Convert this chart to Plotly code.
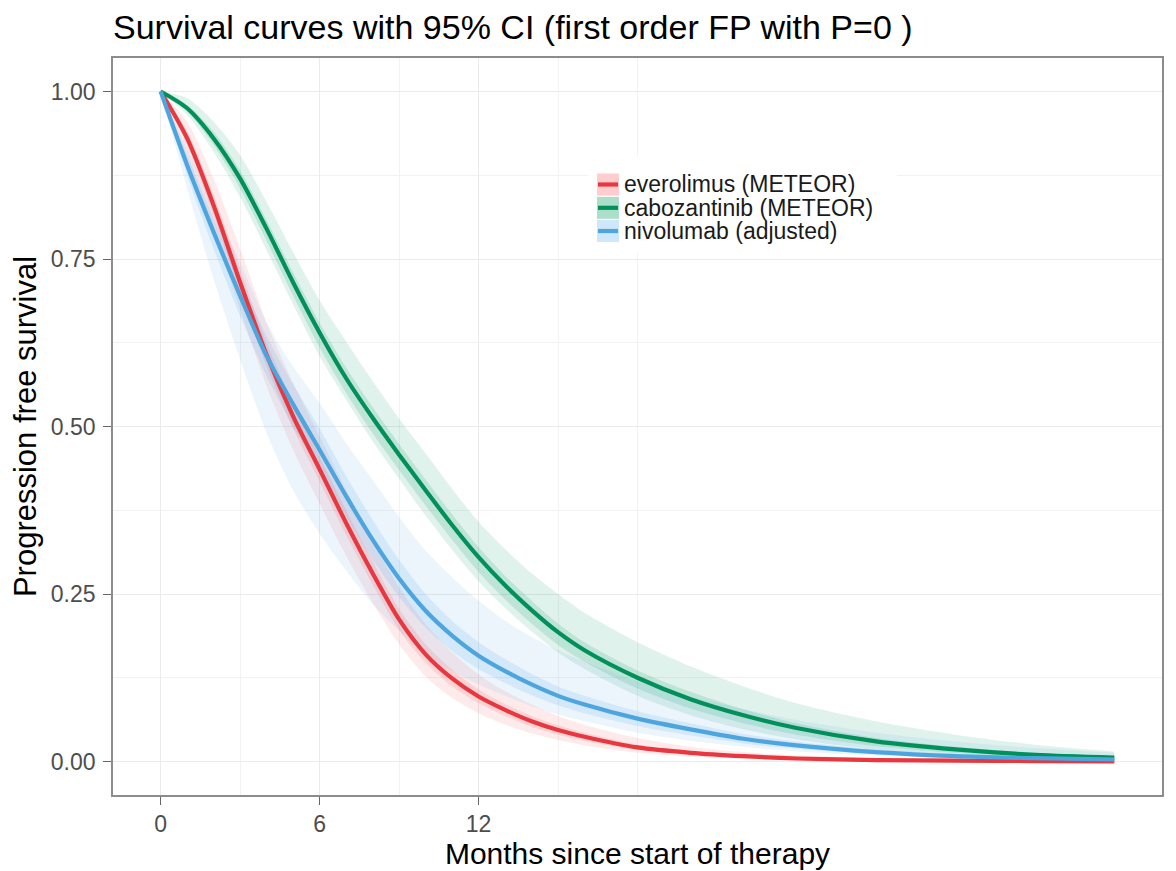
import plotly.graph_objects as go

# ---------------- data ----------------
months = [0, 1, 2, 3, 4, 5, 6, 7, 8, 9, 10, 11, 12, 13, 14, 15, 16, 18, 20, 22, 24, 27, 30, 33, 36]

series_names = ["everolimus (METEOR)", "cabozantinib (METEOR)", "nivolumab (adjusted)"]

everolimus_pfs = [1.0, 0.93, 0.83, 0.715, 0.607, 0.515, 0.436, 0.356, 0.281, 0.212, 0.160, 0.124, 0.097,
                  0.077, 0.060, 0.047, 0.037, 0.021, 0.013, 0.008, 0.0045, 0.0022, 0.0012, 0.0006, 0.0003]
everolimus_outer_lo = [1.0, 0.90, 0.79, 0.675, 0.56, 0.465, 0.385, 0.307, 0.237, 0.175, 0.127, 0.095, 0.072,
                       0.055, 0.042, 0.032, 0.024, 0.013, 0.007, 0.004, 0.002, 0.001, 0.0005, 0.0, 0.0]
everolimus_outer_hi = [1.0, 0.955, 0.87, 0.765, 0.655, 0.565, 0.485, 0.405, 0.33, 0.26, 0.205, 0.163, 0.13,
                       0.105, 0.085, 0.068, 0.055, 0.035, 0.022, 0.014, 0.009, 0.005, 0.003, 0.002, 0.001]
everolimus_inner_lo = [1.0, 0.92, 0.815, 0.70, 0.59, 0.497, 0.418, 0.338, 0.264, 0.196, 0.147, 0.112, 0.087,
                       0.068, 0.052, 0.040, 0.031, 0.017, 0.010, 0.006, 0.003, 0.0015, 0.001, 0.0003, 0.0]
everolimus_inner_hi = [1.0, 0.94, 0.845, 0.735, 0.625, 0.535, 0.455, 0.375, 0.299, 0.228, 0.175, 0.137, 0.108,
                       0.086, 0.068, 0.054, 0.043, 0.025, 0.016, 0.010, 0.006, 0.003, 0.002, 0.001, 0.0005]

cabozantinib_pfs = [1.0, 0.975, 0.93, 0.87, 0.795, 0.715, 0.64, 0.572, 0.513, 0.458, 0.405, 0.353, 0.305,
                    0.263, 0.226, 0.193, 0.166, 0.125, 0.093, 0.069, 0.050, 0.030, 0.018, 0.010, 0.006]
cabozantinib_outer_lo = [1.0, 0.965, 0.91, 0.842, 0.763, 0.682, 0.605, 0.54, 0.478, 0.422, 0.367, 0.316, 0.269,
                         0.229, 0.194, 0.163, 0.138, 0.098, 0.069, 0.048, 0.033, 0.018, 0.010, 0.005, 0.002]
cabozantinib_outer_hi = [1.0, 0.99, 0.955, 0.905, 0.835, 0.76, 0.688, 0.627, 0.568, 0.512, 0.46, 0.407, 0.358,
                         0.317, 0.281, 0.25, 0.222, 0.178, 0.142, 0.112, 0.087, 0.06, 0.04, 0.025, 0.015]
cabozantinib_inner_lo = [1.0, 0.97, 0.92, 0.855, 0.777, 0.695, 0.618, 0.55, 0.49, 0.435, 0.382, 0.331, 0.283,
                         0.242, 0.206, 0.174, 0.149, 0.109, 0.079, 0.057, 0.040, 0.023, 0.013, 0.007, 0.003]
cabozantinib_inner_hi = [1.0, 0.98, 0.94, 0.882, 0.808, 0.73, 0.655, 0.588, 0.529, 0.474, 0.421, 0.369, 0.32,
                         0.277, 0.24, 0.206, 0.178, 0.136, 0.104, 0.078, 0.057, 0.035, 0.022, 0.013, 0.008]

nivolumab_pfs = [1.0, 0.89, 0.79, 0.695, 0.605, 0.533, 0.465, 0.396, 0.331, 0.273, 0.225, 0.188, 0.158,
                 0.135, 0.115, 0.098, 0.085, 0.064, 0.048, 0.034, 0.024, 0.014, 0.008, 0.005, 0.003]
nivolumab_outer_lo = [1.0, 0.855, 0.72, 0.60, 0.49, 0.405, 0.34, 0.285, 0.235, 0.195, 0.16, 0.135, 0.115,
                      0.098, 0.083, 0.07, 0.06, 0.043, 0.031, 0.022, 0.015, 0.009, 0.005, 0.003, 0.001]
nivolumab_outer_hi = [1.0, 0.915, 0.83, 0.745, 0.655, 0.59, 0.535, 0.475, 0.42, 0.365, 0.315, 0.275, 0.24,
                      0.21, 0.186, 0.166, 0.149, 0.12, 0.097, 0.078, 0.062, 0.043, 0.03, 0.02, 0.013]
nivolumab_inner_lo = [1.0, 0.875, 0.765, 0.665, 0.575, 0.50, 0.435, 0.366, 0.301, 0.246, 0.20, 0.165, 0.138,
                      0.117, 0.099, 0.084, 0.072, 0.053, 0.039, 0.027, 0.019, 0.011, 0.006, 0.003, 0.002]
nivolumab_inner_hi = [1.0, 0.905, 0.81, 0.72, 0.635, 0.563, 0.497, 0.426, 0.361, 0.301, 0.25, 0.21, 0.178,
                      0.153, 0.131, 0.112, 0.098, 0.075, 0.057, 0.041, 0.03, 0.018, 0.011, 0.007, 0.004]

x_tick_vals = [0, 6, 12]
x_tick_text = ["0", "6", "12"]
x_minor_vals = [3, 9, 15, 18]
y_tick_vals = [0, 0.25, 0.5, 0.75, 1.0]
y_tick_text = ["0.00", "0.25", "0.50", "0.75", "1.00"]
y_minor_vals = [0.125, 0.375, 0.625, 0.875]

# ---------------- styling ----------------
FONT = "Arial, 'Liberation Sans', Helvetica, sans-serif"
line_colors = ["#E8373E", "#00905A", "#4CA5DF"]
outer_fill = ["rgba(240,70,80,0.11)", "rgba(0,150,100,0.12)", "rgba(80,165,230,0.11)"]
inner_fill = ["rgba(240,70,80,0.14)", "rgba(0,150,100,0.15)", "rgba(80,165,230,0.16)"]
key_fill = ["rgb(255,205,205)", "rgb(172,222,201)", "rgb(207,231,250)"]

series = [
    (everolimus_pfs, everolimus_outer_lo, everolimus_outer_hi, everolimus_inner_lo, everolimus_inner_hi),
    (cabozantinib_pfs, cabozantinib_outer_lo, cabozantinib_outer_hi, cabozantinib_inner_lo, cabozantinib_inner_hi),
    (nivolumab_pfs, nivolumab_outer_lo, nivolumab_outer_hi, nivolumab_inner_lo, nivolumab_inner_hi),
]

fig = go.Figure()

# ribbons
for i, (pfs, olo, ohi, ilo, ihi) in enumerate(series):
    for lo, hi, fc in ((olo, ohi, outer_fill[i]), (ilo, ihi, inner_fill[i])):
        fig.add_trace(go.Scatter(x=months, y=lo, mode="lines",
                                 line=dict(width=0, shape="spline", smoothing=0.8),
                                 showlegend=False, hoverinfo="skip"))
        fig.add_trace(go.Scatter(x=months, y=hi, mode="lines", fill="tonexty", fillcolor=fc,
                                 line=dict(width=0, shape="spline", smoothing=0.8),
                                 showlegend=False, hoverinfo="skip"))

# lines
for i, (pfs, *_rest) in enumerate(series):
    fig.add_trace(go.Scatter(x=months, y=pfs, mode="lines", name=series_names[i],
                             line=dict(color=line_colors[i], width=4.2, shape="spline", smoothing=0.8),
                             showlegend=False))

# ---------------- geometry (page body has an 8px margin) ----------------
W, H = 1168, 863
L, R, T, B = 105, 14, 50, 76
pw, ph = W - L - R, H - T - B


def px(xp):
    return (xp - L) / pw


def py(yp):
    return 1 - (yp - T) / ph


# ---------------- manual legend (ggplot-like keys) ----------------
shapes = [dict(type="rect", xref="paper", yref="paper", layer="above",
               x0=px(580), x1=px(889), y0=py(149), y1=py(245),
               fillcolor="white", line=dict(width=0))]
row_tops = [165.5, 188.8, 212.0]
row_h = 22.0
annotations = []
for i, name in enumerate(series_names):
    top = row_tops[i]
    shapes.append(dict(type="rect", xref="paper", yref="paper", layer="above",
                       x0=px(589), x1=px(611), y0=py(top + row_h), y1=py(top),
                       fillcolor=key_fill[i], line=dict(width=0)))
    shapes.append(dict(type="line", xref="paper", yref="paper", layer="above",
                       x0=px(590), x1=px(610), y0=py(top + row_h / 2), y1=py(top + row_h / 2),
                       line=dict(color=line_colors[i], width=4.2)))
    annotations.append(dict(xref="paper", yref="paper", x=px(614), y=py(top + row_h / 2),
                            xanchor="left", yanchor="middle", text=name, showarrow=False,
                            font=dict(family=FONT, size=23, color="#1A1A1A")))

fig.update_layout(
    width=W, height=H,
    margin=dict(l=L, r=R, t=T, b=B),
    paper_bgcolor="white", plot_bgcolor="white",
    font=dict(family=FONT),
    title=dict(text="Survival curves with 95% CI (first order FP with P=0 )",
               x=105 / W, xanchor="left", xref="container",
               y=1 - 19.5 / H, yanchor="middle", yref="container",
               font=dict(family=FONT, size=34, color="#000000")),
    shapes=shapes,
    annotations=annotations,
    showlegend=False,
)

fig.update_xaxes(
    range=[-1.8, 37.8],
    tickmode="array", tickvals=x_tick_vals, ticktext=x_tick_text,
    showgrid=True, gridcolor="#EBEBEB", gridwidth=1.2,
    minor=dict(tickmode="array", tickvals=x_minor_vals, showgrid=True,
               gridcolor="#F2F2F2", gridwidth=1, ticks=""),
    zeroline=False,
    showline=True, linecolor="#8C8C8C", linewidth=1.6, mirror=True,
    ticks="outside", ticklen=8, tickcolor="#666666", tickwidth=1.3,
    tickfont=dict(family=FONT, size=23, color="#4D4D4D"),
    title=dict(text="Months since start of therapy", standoff=6,
               font=dict(family=FONT, size=30, color="#000000")),
    automargin=False,
)
fig.update_yaxes(
    range=[-0.05, 1.05],
    tickmode="array", tickvals=y_tick_vals, ticktext=y_tick_text,
    showgrid=True, gridcolor="#EBEBEB", gridwidth=1.2,
    minor=dict(tickmode="array", tickvals=y_minor_vals, showgrid=True,
               gridcolor="#F2F2F2", gridwidth=1, ticks=""),
    zeroline=False,
    showline=True, linecolor="#8C8C8C", linewidth=1.6, mirror=True,
    ticks="outside", ticklen=8, tickcolor="#666666", tickwidth=1.3,
    ticklabelstandoff=3,
    tickfont=dict(family=FONT, size=23, color="#4D4D4D"),
    title=dict(text="Progression free survival", standoff=12,
               font=dict(family=FONT, size=31, color="#000000")),
    automargin=False,
)

fig.write_html("out.html")
